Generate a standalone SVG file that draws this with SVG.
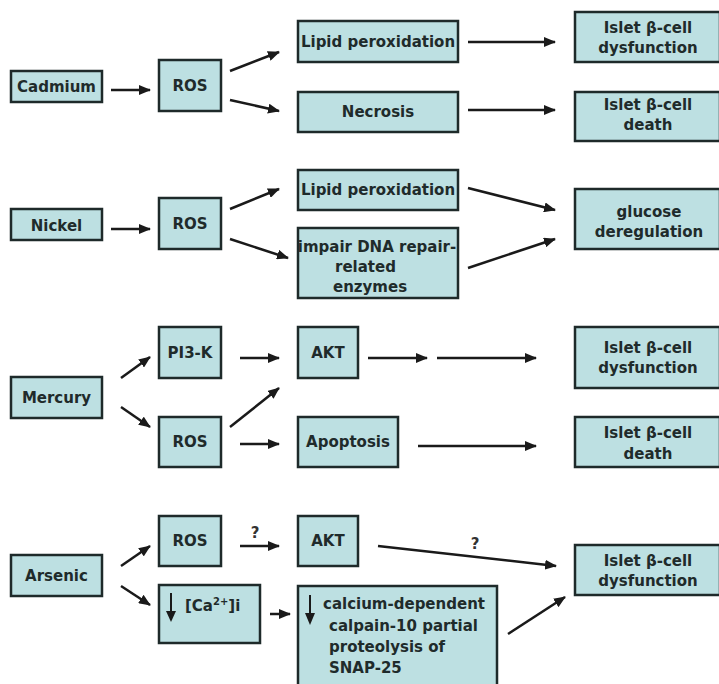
<svg xmlns="http://www.w3.org/2000/svg" width="719" height="684" viewBox="0 0 719 684">
<defs>
<style>
.box{fill:#bde0e2;stroke:#1e2a2a;stroke-width:2.5}
.t{font-family:"DejaVu Sans","Verdana",sans-serif;font-weight:bold;font-size:15px;fill:#1f2b2b;text-anchor:middle}
.ts{font-family:"DejaVu Sans","Verdana",sans-serif;font-weight:bold;font-size:15px;fill:#1f2b2b;text-anchor:start}
.c line{stroke:#1a1a1a;stroke-width:2.5;marker-end:url(#ah)}
.q{font-family:"DejaVu Sans","Verdana",sans-serif;font-weight:bold;font-size:15px;fill:#333;text-anchor:middle}
</style>
<marker id="ah" markerUnits="userSpaceOnUse" markerWidth="12" markerHeight="10" refX="11" refY="5" orient="auto">
<path d="M0,0 L12,5 L0,10 z" fill="#1a1a1a"/>
</marker>
</defs>
<rect width="719" height="684" fill="#fff"/>

<!-- Cadmium section -->
<g id="cadmium"><rect class="box" x="11" y="71" width="91" height="31"/><text class="t" x="56.5" y="92">Cadmium</text></g>
<g id="ros1"><rect class="box" x="159" y="60" width="62" height="51"/><text class="t" x="190" y="91">ROS</text></g>
<g id="lipid1"><rect class="box" x="298" y="21" width="160" height="41"/><text class="t" x="378" y="47">Lipid peroxidation</text></g>
<g id="necrosis"><rect class="box" x="298" y="92" width="160" height="40"/><text class="t" x="378" y="117">Necrosis</text></g>
<g id="islet1"><rect class="box" x="575" y="12" width="145" height="50"/><text class="t" x="648" y="33">Islet β-cell</text><text class="t" x="648" y="53">dysfunction</text></g>
<g id="islet2"><rect class="box" x="575" y="92" width="145" height="49"/><text class="t" x="648" y="110">Islet β-cell</text><text class="t" x="648" y="130">death</text></g>

<!-- Nickel section -->
<g id="nickel"><rect class="box" x="11" y="209" width="91" height="31"/><text class="t" x="56.5" y="231">Nickel</text></g>
<g id="ros2"><rect class="box" x="159" y="198" width="62" height="51"/><text class="t" x="190" y="229">ROS</text></g>
<g id="lipid2"><rect class="box" x="298" y="170" width="160" height="40"/><text class="t" x="378" y="195">Lipid peroxidation</text></g>
<g id="impair"><rect class="box" x="298" y="228" width="160" height="70"/><text class="t" x="377" y="252">impair DNA repair-</text><text class="ts" x="335" y="272">related</text><text class="ts" x="333" y="292">enzymes</text></g>
<g id="glucose"><rect class="box" x="575" y="189" width="145" height="60"/><text class="t" x="649" y="217">glucose</text><text class="t" x="649" y="237">deregulation</text></g>

<!-- Mercury section -->
<g id="mercury"><rect class="box" x="11" y="377" width="91" height="41"/><text class="t" x="56.5" y="403">Mercury</text></g>
<g id="pi3k"><rect class="box" x="159" y="327" width="62" height="51"/><text class="t" x="190" y="358">PI3-K</text></g>
<g id="ros3"><rect class="box" x="159" y="417" width="62" height="50"/><text class="t" x="190" y="447">ROS</text></g>
<g id="akt1"><rect class="box" x="298" y="327" width="60" height="51"/><text class="t" x="328" y="358">AKT</text></g>
<g id="apoptosis"><rect class="box" x="298" y="417" width="100" height="50"/><text class="t" x="348" y="447">Apoptosis</text></g>
<g id="islet3"><rect class="box" x="575" y="327" width="145" height="61"/><text class="t" x="648" y="353">Islet β-cell</text><text class="t" x="648" y="373">dysfunction</text></g>
<g id="islet4"><rect class="box" x="575" y="417" width="145" height="50"/><text class="t" x="648" y="438">Islet β-cell</text><text class="t" x="648" y="459">death</text></g>

<!-- Arsenic section -->
<g id="arsenic"><rect class="box" x="11" y="555" width="91" height="41"/><text class="t" x="56.5" y="581">Arsenic</text></g>
<g id="ros4"><rect class="box" x="159" y="516" width="62" height="50"/><text class="t" x="190" y="546">ROS</text></g>
<g id="ca"><rect class="box" x="159" y="585" width="101" height="58"/>
<line x1="171" y1="593" x2="171" y2="612" stroke="#1a1a1a" stroke-width="2"/><path d="M166,611 L176,611 L171,622 z" fill="#1a1a1a"/>
<text class="ts" x="185" y="611">[Ca<tspan font-size="10" dy="-6">2+</tspan><tspan dy="6">]i</tspan></text></g>
<g id="akt2"><rect class="box" x="298" y="516" width="60" height="50"/><text class="t" x="328" y="546">AKT</text></g>
<g id="calpain"><rect class="box" x="298" y="586" width="199" height="104"/>
<line x1="310" y1="595" x2="310" y2="614" stroke="#1a1a1a" stroke-width="2"/><path d="M305,613 L315,613 L310,625 z" fill="#1a1a1a"/>
<text class="ts" x="323" y="609">calcium-dependent</text><text class="ts" x="329" y="631">calpain-10 partial</text><text class="ts" x="329" y="652">proteolysis of</text><text class="ts" x="329" y="673">SNAP-25</text></g>
<g id="islet5"><rect class="box" x="575" y="545" width="145" height="50"/><text class="t" x="648" y="566">Islet β-cell</text><text class="t" x="648" y="586">dysfunction</text></g>

<g id="connectors" class="c">
<line x1="111" y1="90" x2="150" y2="90"/>
<line x1="230" y1="71" x2="279" y2="52"/>
<line x1="230" y1="100" x2="279" y2="111"/>
<line x1="468" y1="42" x2="555" y2="42"/>
<line x1="468" y1="110" x2="555" y2="110"/>

<line x1="111" y1="229" x2="150" y2="229"/>
<line x1="230" y1="209" x2="279" y2="189"/>
<line x1="230" y1="239" x2="288" y2="258"/>
<line x1="468" y1="188" x2="555" y2="210"/>
<line x1="468" y1="268" x2="555" y2="239"/>

<line x1="121" y1="378" x2="150" y2="357"/>
<line x1="121" y1="407" x2="150" y2="427"/>
<line x1="240" y1="358" x2="279" y2="358"/>
<line x1="230" y1="427" x2="279" y2="388"/>
<line x1="240" y1="444" x2="279" y2="444"/>
<line x1="368" y1="358" x2="427" y2="358"/>
<line x1="437" y1="358" x2="536" y2="358"/>
<line x1="418" y1="446" x2="536" y2="446"/>

<line x1="121" y1="566" x2="150" y2="546"/>
<line x1="121" y1="586" x2="150" y2="605"/>
<line x1="240" y1="546" x2="279" y2="546"/>
<line x1="270" y1="614" x2="290" y2="614"/>
<line x1="378" y1="546" x2="556" y2="566"/>
<line x1="508" y1="634" x2="565" y2="597"/>
</g>
<text class="q" x="255" y="538">?</text>
<text class="q" x="475" y="549">?</text>
</svg>
